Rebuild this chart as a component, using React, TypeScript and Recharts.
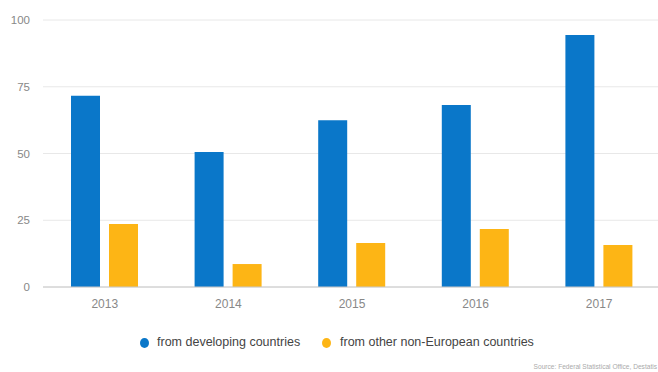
import React from "react";
import { BarChart, Bar, XAxis, YAxis, CartesianGrid, Legend } from "recharts";

const years = ["2013", "2014", "2015", "2016", "2017"];
const developing = [71.6, 50.6, 62.5, 68.2, 94.4];
const otherNonEuropean = [23.6, 8.6, 16.5, 21.7, 15.7];
const yTicks = [0, 25, 50, 75, 100];
const seriesNames = ["from developing countries", "from other non-European countries"];
const sourceText = "Source: Federal Statistical Office, Destatis";

const BLUE = "#0a77c9";
const ORANGE = "#fdb515";

const data = years.map((y, i) => ({
  year: y,
  developing: developing[i],
  other: otherNonEuropean[i],
}));

const LegendContent = () => (
  <div style={{ position: "relative", height: 20, width: 661, fontFamily: "Liberation Sans, Arial, sans-serif", fontSize: 12.5, color: "#444" }}>
    <div style={{ position: "absolute", left: 140, top: 5, width: 9, height: 10, borderRadius: "50%", background: BLUE }} />
    <div style={{ position: "absolute", left: 157, top: 2, lineHeight: "15px" }}>{seriesNames[0]}</div>
    <div style={{ position: "absolute", left: 322, top: 5, width: 9, height: 10, borderRadius: "50%", background: ORANGE }} />
    <div style={{ position: "absolute", left: 340, top: 2, lineHeight: "15px" }}>{seriesNames[1]}</div>
  </div>
);

export default function App() {
  return (
    <div style={{ position: "fixed", left: 0, top: 0, width: 658, height: 372, overflow: "hidden", background: "#fff" }}>
      <BarChart
        width={661}
        height={372}
        data={data}
        margin={{ top: 20, right: 0, bottom: 35, left: 0 }}
        barSize={29}
        barGap={9}
      >
        <CartesianGrid vertical={false} stroke="#e8e8e8" />
        <XAxis
          dataKey="year"
          height={30}
          tickLine={false}
          tickSize={0}
          tickMargin={12}
          axisLine={{ stroke: "#c8c8c8" }}
          tick={{ fill: "#888", fontSize: 12, fontFamily: "Liberation Sans, Arial, sans-serif" }}
        />
        <YAxis
          width={43}
          domain={[0, 100]}
          ticks={yTicks}
          axisLine={false}
          tickLine={false}
          tickSize={0}
          tickMargin={13}
          tick={{ fill: "#888", fontSize: 11.5, fontFamily: "Liberation Sans, Arial, sans-serif" }}
        />
        <Legend
          verticalAlign="bottom"
          content={<LegendContent />}
          wrapperStyle={{ top: 333, bottom: "auto", left: 0, height: 20 }}
        />
        <Bar dataKey="developing" name={seriesNames[0]} fill={BLUE} isAnimationActive={false} />
        <Bar dataKey="other" name={seriesNames[1]} fill={ORANGE} isAnimationActive={false} />
      </BarChart>
      <div
        style={{
          position: "absolute",
          right: 1,
          top: 363,
          fontFamily: "Liberation Sans, Arial, sans-serif",
          fontSize: 6.6,
          color: "#aaa",
          whiteSpace: "nowrap",
        }}
      >
        {sourceText}
      </div>
    </div>
  );
}
